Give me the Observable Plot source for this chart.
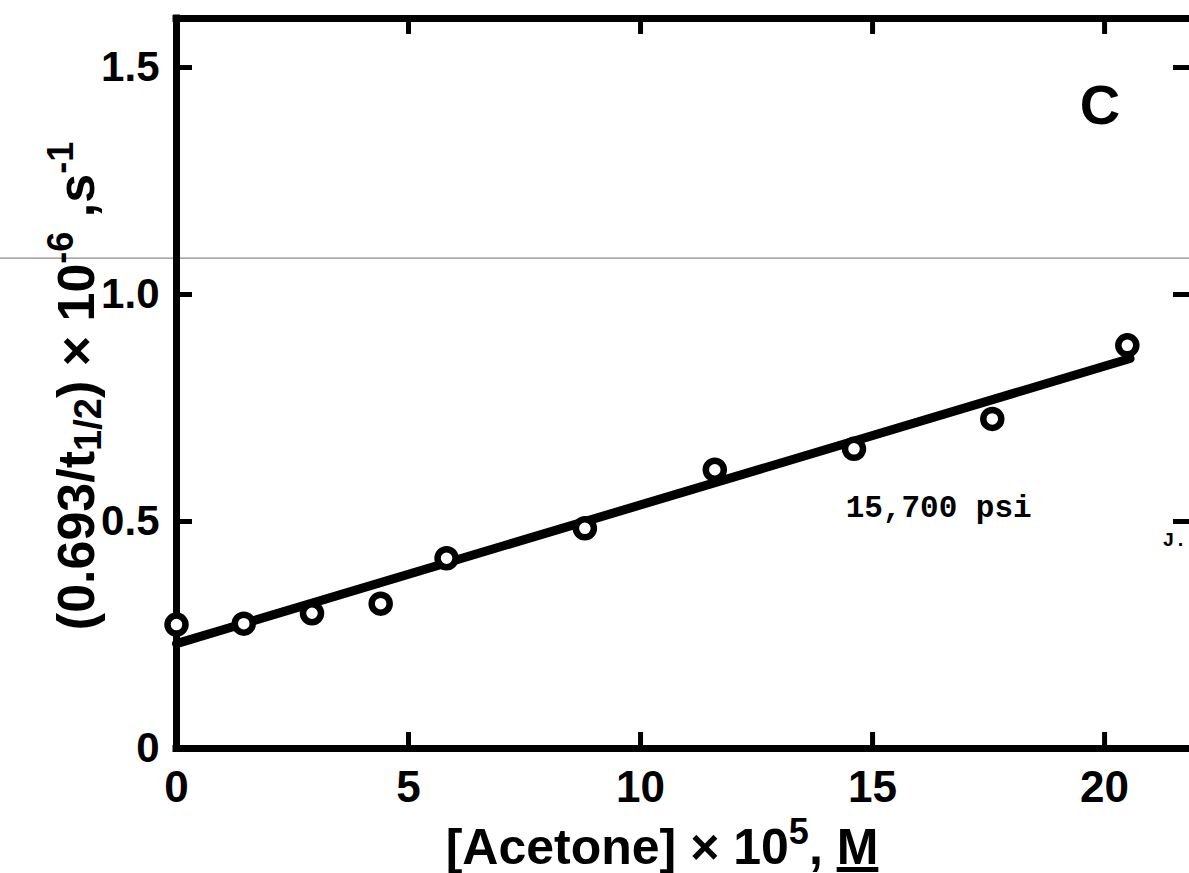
<!DOCTYPE html>
<html><head><meta charset="utf-8">
<script src="https://cdn.jsdelivr.net/npm/d3@7"></script>
<script src="https://cdn.jsdelivr.net/npm/@observablehq/plot@0.6"></script>
<style>
html,body{margin:0;padding:0;background:#fff;}
#chart svg{display:block;}
</style></head><body><div id="chart"></div>
<script>
// Data
const acetone = [0, 1.45, 2.92, 4.40, 5.82, 8.80, 11.60, 14.60, 17.58, 20.49];
const rate    = [0.273, 0.275, 0.298, 0.319, 0.419, 0.485, 0.614, 0.660, 0.726, 0.888];
const fitAcetone = [0, 20.55];
const fitRate    = [0.231, 0.859];
const xTicks = [0, 5, 10, 15, 20];
const xTickLabels = ["0", "5", "10", "15", "20"];
const yTicks = [0, 0.5, 1.0, 1.5];
const yTickLabels = ["0", "0.5", "1.0", "1.5"];
const xInnerTicks = [5, 10, 15, 20];
const yInnerTicks = [0.5, 1.0, 1.5];
const scanLineValue = [1.079];

const W = 1189, H = 873;
const ML = 176, MR = 0, MT = 18, MB = 125;
const xMax = 21.83, yMax = 1.608;
const pxPerX = (W - ML - MR) / xMax;
const pxPerY = (H - MT - MB) / yMax;
const tickLenX = 16 / pxPerX;
const tickLenY = 16 / pxPerY;
const FONT = '"Liberation Sans", Arial, sans-serif';
const MONO = '"Liberation Mono", "DejaVu Sans Mono", monospace';

const points = acetone.map((a, i) => ({a, r: rate[i]}));
const fit = fitAcetone.map((a, i) => ({a, r: fitRate[i]}));

const plot = Plot.plot({
  width: W, height: H,
  marginLeft: ML, marginRight: MR, marginTop: MT, marginBottom: MB,
  x: {domain: [0, xMax]},
  y: {domain: [0, yMax]},
  style: {fontFamily: FONT, background: "white", color: "black", overflow: "visible"},
  marks: [
    Plot.axisX(xTicks, {tickSize: 0, tickPadding: 22, fontSize: 44, fontWeight: "bold",
      tickFormat: d => xTickLabels[xTicks.indexOf(d)], label: null}),
    Plot.axisY(yTicks, {tickSize: 0, tickPadding: 17, fontSize: 42, fontWeight: "bold",
      tickFormat: d => yTickLabels[yTicks.indexOf(d)], label: null}),
    // frame (left, bottom, top)
    Plot.ruleX([0], {strokeWidth: 7, strokeLinecap: "square"}),
    Plot.ruleY([0], {strokeWidth: 7, strokeLinecap: "square"}),
    Plot.ruleY([yMax], {strokeWidth: 7, strokeLinecap: "square"}),
    // inward ticks
    Plot.ruleX(xInnerTicks, {x: d => d, y1: 0, y2: tickLenY, strokeWidth: 5}),
    Plot.ruleX(xInnerTicks, {x: d => d, y1: yMax - tickLenY, y2: yMax, strokeWidth: 5}),
    Plot.ruleY(yInnerTicks, {y: d => d, x1: 0, x2: tickLenX, strokeWidth: 5}),
    Plot.ruleY(yInnerTicks, {y: d => d, x1: xMax - tickLenX, x2: xMax, strokeWidth: 5}),
    // regression line
    Plot.line(fit, {x: "a", y: "r", strokeWidth: 9, stroke: "black"}),
    // data points
    Plot.dot(points, {x: "a", y: "r", r: 9, stroke: "black", strokeWidth: 6.5, fill: "white"}),
    // annotations
    Plot.text(["C"], {x: 19.9, y: 1.414, fontSize: 56, fontWeight: "bold", fontFamily: FONT}),
    Plot.text(["15,700 psi"], {x: 14.42, y: 0.509, textAnchor: "start", lineAnchor: "bottom",
      fontSize: 31, fontWeight: "bold", fontFamily: MONO}),
    Plot.text(["J."], {x: 21.25, y: 0.447, textAnchor: "start", lineAnchor: "bottom",
      fontSize: 20, fontWeight: "bold", fontFamily: MONO})
  ]
});

document.getElementById("chart").appendChild(plot);
const svg = d3.select(plot);
const ys = plot.scale("y");

// faint scan line across the page
svg.insert("line", ":first-child")
  .attr("x1", 0).attr("x2", W)
  .attr("y1", ys.apply(scanLineValue[0])).attr("y2", ys.apply(scanLineValue[0]))
  .attr("stroke", "#8a8a8a").attr("stroke-width", 1.2);

// x axis label
const xl = svg.append("text")
  .attr("x", 662).attr("y", 864)
  .attr("text-anchor", "middle")
  .attr("font-family", FONT).attr("font-weight", "bold").attr("font-size", 50)
  .attr("fill", "black");
xl.append("tspan").text("[Acetone] × 10");
xl.append("tspan").attr("dy", -20).attr("font-size", 36).text("5");
xl.append("tspan").attr("dy", 20).text(", ");
xl.append("tspan").attr("text-decoration", "underline").text("M");

// y axis label
const yl = svg.append("text")
  .attr("transform", "translate(94,386) rotate(-90)")
  .attr("text-anchor", "middle")
  .attr("font-family", FONT).attr("font-weight", "bold").attr("font-size", 52)
  .attr("fill", "black");
yl.append("tspan").text("(0.693/t");
yl.append("tspan").attr("dy", 7).attr("font-size", 38).text("1/2");
yl.append("tspan").attr("dy", -7).text(") × 10");
yl.append("tspan").attr("dy", -21).attr("font-size", 36).text("-6");
yl.append("tspan").attr("dy", 21).text(" ,s");
yl.append("tspan").attr("dy", -21).attr("font-size", 36).text("-1");
</script>
</body></html>
